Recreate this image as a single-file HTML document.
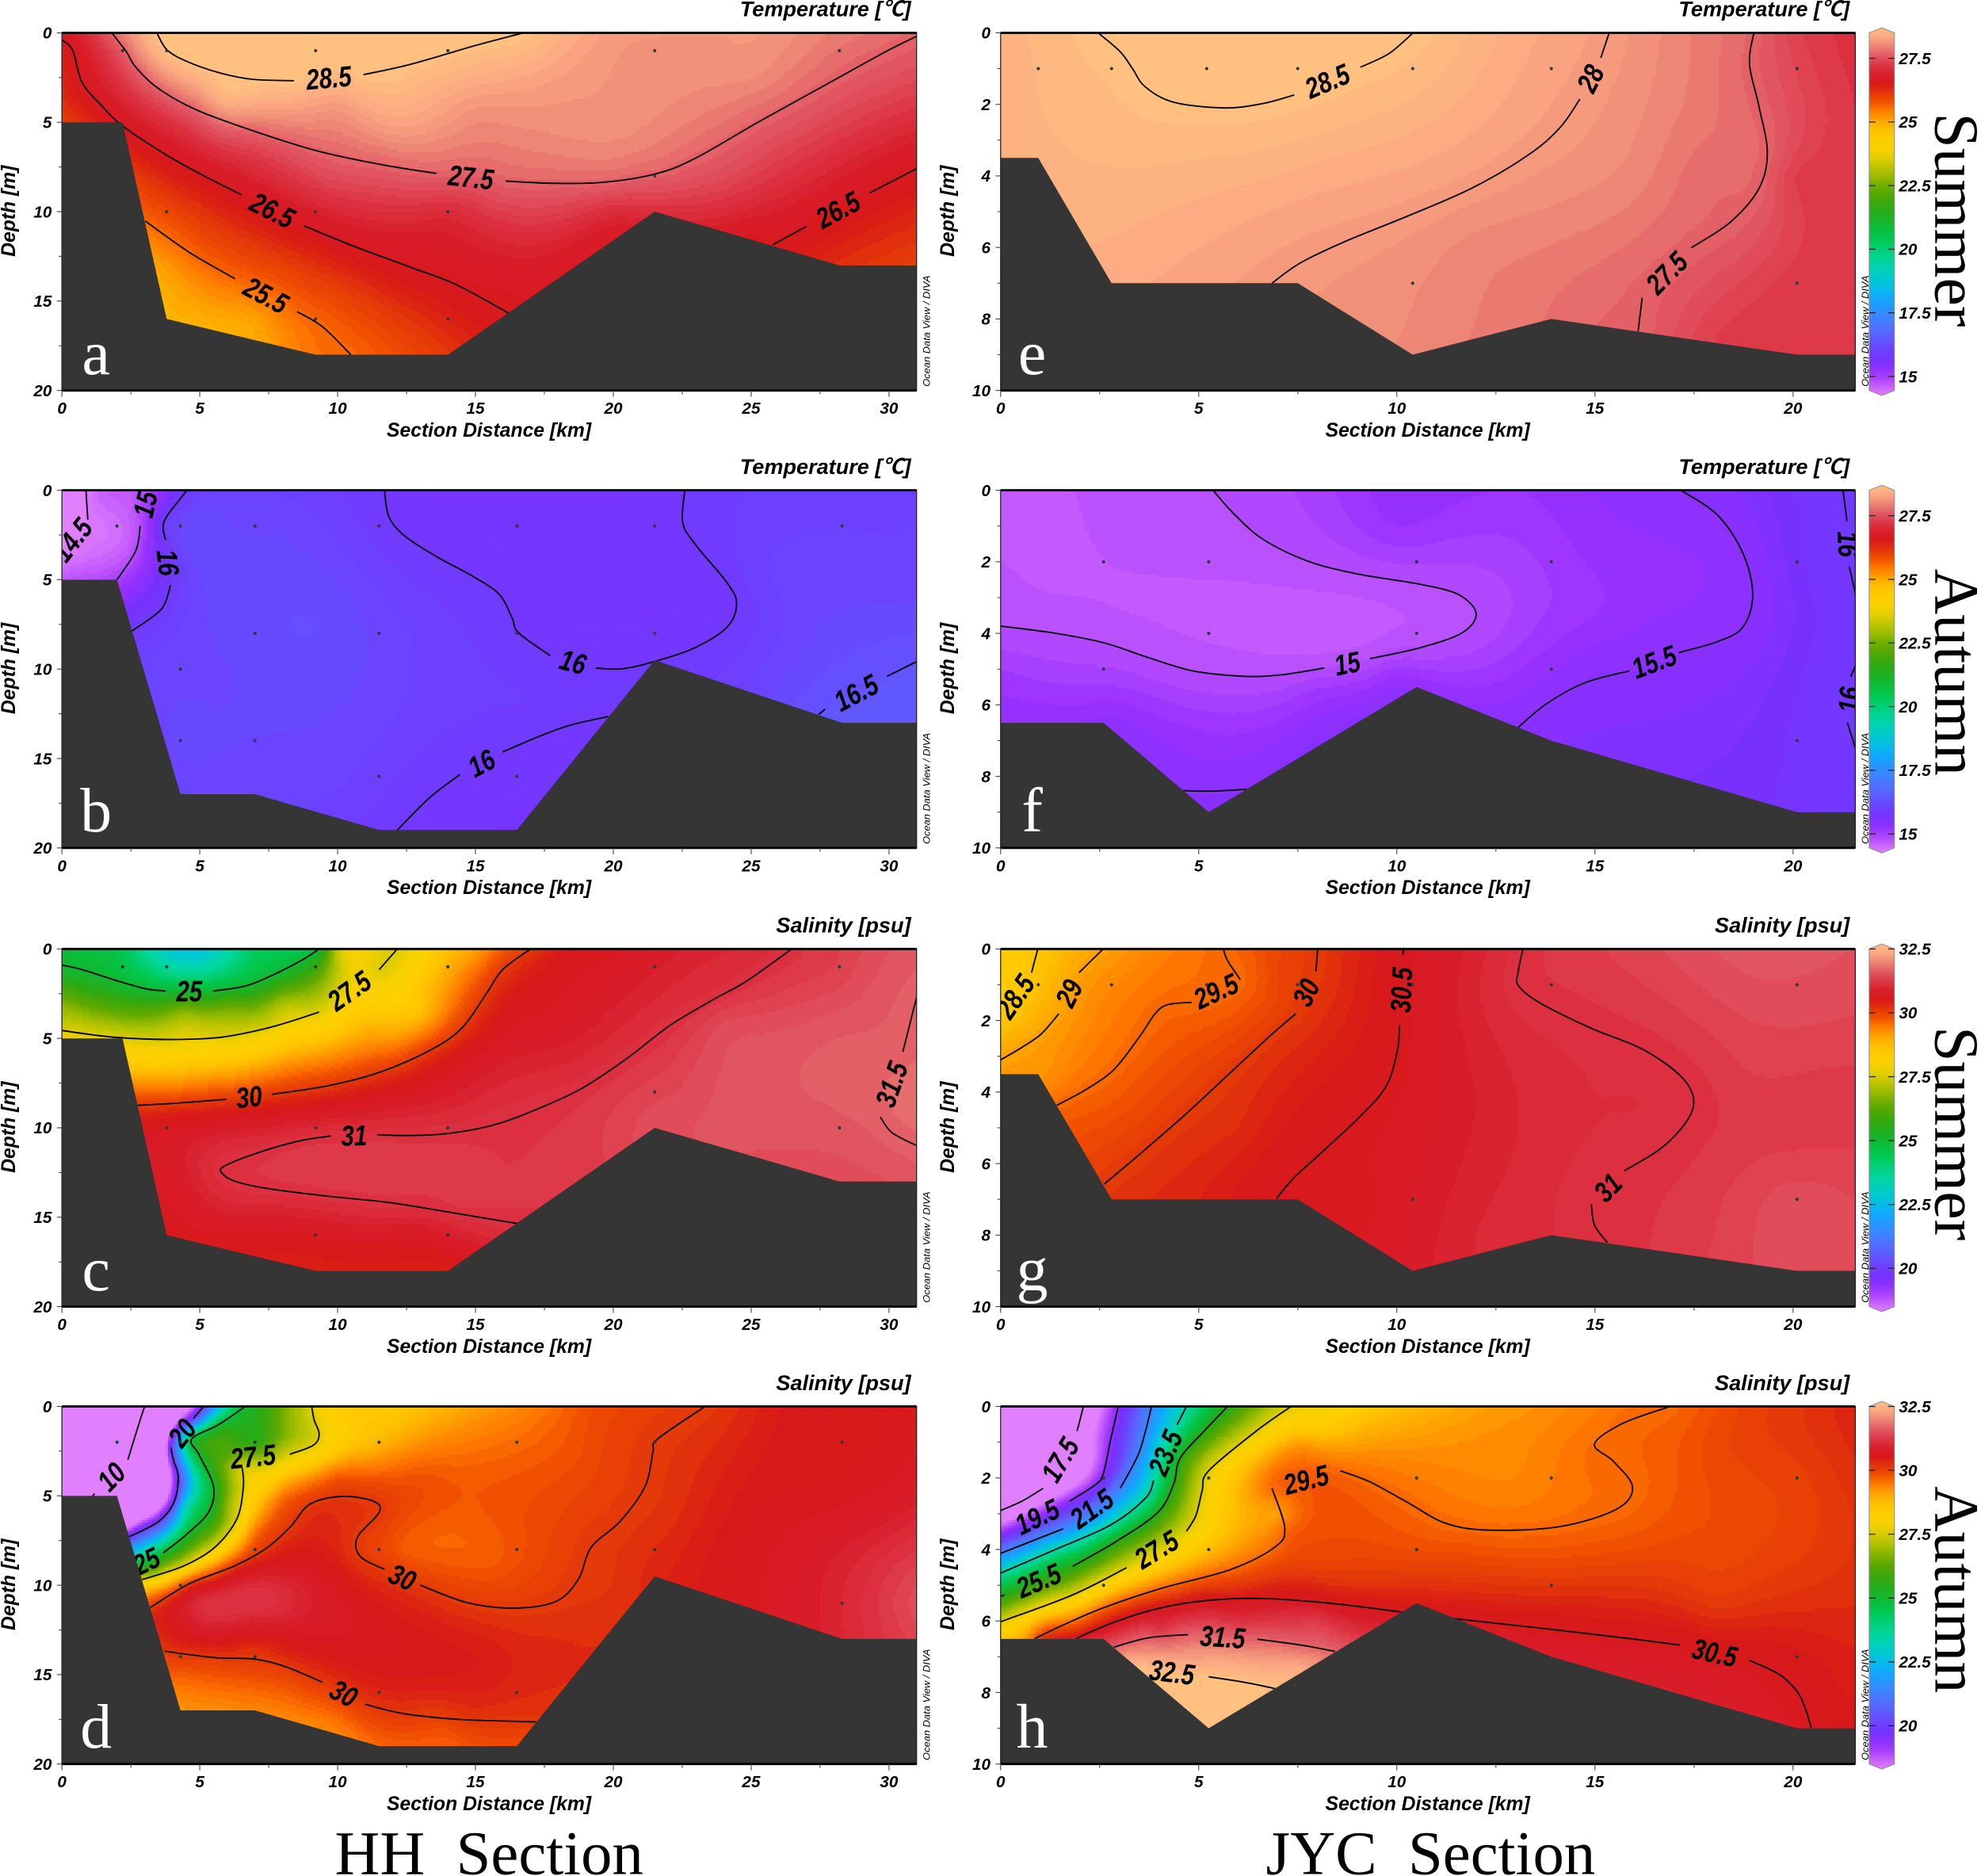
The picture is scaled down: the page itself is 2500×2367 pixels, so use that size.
<!DOCTYPE html>
<html lang="en">
<head>
<meta charset="utf-8">
<title>HH and JYC section temperature and salinity</title>
<style>
html,body{margin:0;padding:0;background:#fff;}
svg{display:block;}
text{font-family:"Liberation Sans","Noto Sans CJK SC",sans-serif;}
.bi{font-weight:bold;font-style:italic;fill:#000;}
.serif{font-family:"Liberation Serif","Noto Serif CJK SC",serif;white-space:pre;fill:#000;}
</style>
</head>
<body>
<svg id="chart" xmlns="http://www.w3.org/2000/svg" width="2500" height="2367" viewBox="0 0 1568 1484.6">
<rect x="0" y="0" width="1568" height="1484.6" fill="#fff"/>
<defs id="defs"></defs>
<g id="plots"></g>
<text class="serif" x="265" y="1483" font-size="49.4">HH  Section</text>
<text class="serif" x="1002" y="1483" font-size="49.4">JYC  Section</text>
<text class="serif" font-size="50" text-anchor="middle" transform="translate(1532,174) rotate(90)">Summer</text>
<text class="serif" font-size="50" text-anchor="middle" transform="translate(1532,532) rotate(90)">Autumn</text>
<text class="serif" font-size="50" text-anchor="middle" transform="translate(1532,897) rotate(90)">Summer</text>
<text class="serif" font-size="50" text-anchor="middle" transform="translate(1532,1258) rotate(90)">Autumn</text>
</svg>
<script>
// ---------- colour scale (fraction of the scale range, colour) ----------
const colormapStops = [
[0,'#e080ff'],[.03,'#c058ff'],[.062,'#9830ff'],[.093,'#7830ff'],[.124,'#6c40ff'],[.17,'#5868ff'],[.218,'#3888ff'],
[.264,'#10a8ff'],[.31,'#00c8d8'],[.365,'#00d8a0'],[.427,'#00c850'],[.466,'#10b830'],[.513,'#30a810'],[.56,'#60a800'],
[.606,'#a8c000'],[.64,'#d8cc00'],[.662,'#f5d000'],[.69,'#ffd000'],[.72,'#ffc400'],[.746,'#ffa800'],[.777,'#ff7800'],[.80,'#f05000'],
[.822,'#e43808'],[.847,'#d81818'],[.87,'#d81c28'],[.893,'#dc3040'],[.925,'#e25a65'],[.956,'#f09078'],[.975,'#fca882'],[1,'#ffc080']];

// ---------- axis ticks ----------
const hhKmTicks = [0,5,10,15,20,25,30];
const jycKmTicks = [0,5,10,15,20];
const hhDepthTicks = [0,5,10,15,20];
const jycDepthTicks = [0,2,4,6,8,10];
const temperatureBarTicks = [27.5,25,22.5,20,17.5,15];
const salinityBarTicks = [32.5,30,27.5,25,22.5,20];

// ---------- seabed profiles [km, depth] ----------
const hhSummerBottom = [[0,5],[2.2,5],[3.8,16],[9.2,18],[14,18],[21.5,10],[28.2,13],[31,13]];
const hhAutumnBottom = [[0,5],[2,5],[4.3,17],[7,17],[11.5,19],[16.5,19],[21.5,9.5],[28.3,13],[31,13]];
const jycSummerBottom = [[0,3.5],[.95,3.5],[2.8,7],[7.5,7],[10.4,9],[13.9,8],[20.1,9],[21.6,9]];
const jycAutumnBottom = [[0,6.5],[2.6,6.5],[5.25,9],[10.5,5.5],[13.9,7],[20.1,9],[21.6,9]];

// ---------- sampling stations [km, depth] ----------
const aStations = [[2.2,1],[3.8,1],[9.2,1],[14,1],[21.5,1],[28.2,1],[21.5,8],[3.8,10],[9.2,10],[14,10],[9.2,16],[14,16]];
const bStations = [[2,2],[4.3,2],[7,2],[11.5,2],[16.5,2],[21.5,2],[28.3,2],[7,8],[11.5,8],[16.5,8],[21.5,8],[4.3,10],[4.3,14],[7,14],[11.5,16],[16.5,16]];
const cStations = [[2.2,1],[3.8,1],[9.2,1],[14,1],[21.5,1],[28.2,1],[21.5,8],[3.8,10],[9.2,10],[14,10],[28.2,10],[9.2,16],[14,16]];
const dStations = [[2,2],[4.3,2],[7,2],[11.5,2],[16.5,2],[21.5,2],[28.3,2],[7,8],[11.5,8],[16.5,8],[21.5,8],[4.3,10],[28.3,11],[4.3,14],[7,14],[11.5,16],[16.5,16]];
const eStations = [[.95,1],[2.8,1],[5.2,1],[7.5,1],[10.4,1],[13.9,1],[20.1,1],[10.4,7],[20.1,7]];
const fStations = [[2.6,2],[5.25,2],[10.5,2],[13.9,2],[20.1,2],[5.25,4],[10.5,4],[2.6,5],[13.9,5],[20.1,7]];
const gStations = [[.95,1],[2.8,1],[5.2,1],[7.5,1],[10.4,1],[13.9,1],[20.1,1],[10.4,7],[20.1,7]];
const hStations = [[2.6,2],[5.25,2],[10.5,2],[13.9,2],[20.1,2],[5.25,4],[10.5,4],[2.6,5],[13.9,5],[20.1,7]];

// ---------- isolines: [level, [[km, depth, gapBeforePoint?], ...]] ----------
const aContours = [
[28.5,[[3.44,0],[3.83,.98],[4.63,1.66],[5.78,2.26],[6.93,2.6],[8.42,2.68],[10.94,2.34,1],[12.66,1.75],[14.95,.73],[16.74,0]]],
[27.5,[[1.81,0],[2.34,1.07],[2.68,1.92],[3.49,3.1],[4.86,4.3],[6.93,5.48],[9.22,6.59],[11.51,7.35],[13.58,7.86],[16.1,8.29,1],[17.94,8.42],[19.77,8.34],[21.6,7.86],[22.98,7.01],[25.28,4.97],[27.57,3.02],[29.86,1.07],[31,.19]]],
[26.5,[[0,.39],[.39,.98],[.73,2.77],[1.42,4.04],[2.22,5.23],[3.72,6.76],[5.09,7.95],[6.51,9.05],[8.76,10.78,1],[10.6,11.94],[12.66,13.12],[14.27,14.06],[16.2,15.67]]],
[26.5,[[25.78,11.85],[27,10.83],[29.29,8.96,1],[31,7.6]]],
[25.5,[[3.03,10.53],[4.63,12.28],[6.28,13.75],[8.53,15.59,1],[9.45,16.43],[10.48,18]]]
];
const bContours = [
[14.5,[[.87,0],[.94,1.64],[-.2,3.9,1]]],
[15,[[3.2,-.4],[2.84,1.97,1],[2.68,3.37],[2,5]]],
[16,[[4.54,0],[3.83,1.4],[3.67,2.05],[3.76,2.79],[3.94,5.3,1],[3.6,6.66],[2.52,7.89]]],
[16,[[11.7,0],[11.86,1.48],[12.43,2.55],[13.58,3.7],[14.95,4.85],[15.87,5.83],[16.33,7.15],[16.56,7.97],[17.71,9.25],[19.36,9.94,1],[20.34,9.98],[21.6,9.53],[22.98,8.79],[24.13,7.64],[24.47,6.33],[24.13,5.18],[22.98,3.04],[22.52,1.81],[22.59,0]]],
[16,[[19.82,12.65],[18.4,13.15],[17.25,13.8],[15.99,14.63],[14.45,15.89,1],[13.35,17.17],[12.16,19.01]]],
[16.5,[[27.45,12.54],[27.68,12.24],[29.93,10.4,1],[31,9.58]]]
];
const cContours = [
[25,[[0,.9],[.73,1.15],[1.88,1.72],[3.03,2.22],[3.76,2.35],[5.48,2.35,1],[6.7,2.05],[7.85,1.31],[8.76,.57],[9.33,0]]],
[27.5,[[0,4.56],[1.88,4.93],[3.94,5.06],[5.78,4.93],[7.62,4.35],[9.33,3.53],[11.51,1.15,1],[12.16,0]]],
[30,[[2.75,8.74],[4.17,8.62],[5.96,8.41],[7.61,8.13,1],[9.68,7.64],[11.51,6.9],[13.35,5.67],[14.5,4.43],[15.41,2.46],[15.99,1.15],[17,0]]],
[31,[[26.47,0],[24.82,1.81],[23.67,2.79],[22.06,4.27],[20.46,6.16],[18.85,7.8],[17.25,8.95],[15.64,9.85],[14.04,10.31],[12.66,10.43],[11.44,10.39],[9.75,10.46,1],[8.53,10.76],[6.93,11.49],[5.89,12.15],[5.78,12.48],[6.24,12.97],[7.39,13.38],[9.68,13.83],[11.97,14.2],[14.27,14.78],[16.51,15.35]]],
[31.5,[[31,2.71],[30.77,4.1],[30.5,5.75],[29.68,9.39,1],[30.1,10.26],[31,11]]]
];
const dContours = [
[10,[[3,0],[2.8,.94],[2.39,2.98],[1.19,4.88,1],[1.1,5.03]]],
[20,[[5.14,0],[4.77,.67],[3.95,2.3,1],[4.06,3.07],[4.22,3.96],[4.06,5.38],[3.49,6.45],[2.45,7.28]]],
[25,[[6.65,0],[5.67,1.03],[4.7,1.83],[4.98,2.72],[5.5,4.49],[5.32,5.91],[4.52,7.16],[3.67,8.19],[2.45,9.11,1]]],
[27.5,[[9.06,0],[9.15,.76],[9.33,1.56],[9.11,2.18],[8.26,2.68],[6.54,3.43,[6.93,2.8,-6]],[6.58,4.49],[6.35,6.27],[5.55,7.87],[4.4,8.93],[2.91,9.68]]],
[30,[[3.21,11.24],[4.63,9.91],[6.24,8.93],[7.39,7.96],[8.3,6.71],[8.99,5.47],[10.14,5.03],[11.28,5.29],[11.51,5.91],[10.71,7.34],[10.83,8.4],[11.7,9.11],[13,10,1],[14.72,10.98],[16.44,11.28],[17.94,10.89],[18.74,9.64],[19.2,7.87],[20.23,6.45],[21.15,4.49],[21.44,2.54],[21.6,1.83],[23.33,0]]],
[30,[[3.72,13.69],[5.55,14.05],[6.93,14.12],[8.07,14.53],[9.45,15.42],[11,16.66,1],[12.43,17.19],[14.5,17.51],[17.2,17.64]]]
];
const eContours = [
[28.5,[[2.46,0],[3.02,.53],[3.33,1],[3.65,1.51],[4.37,1.94],[5.65,2.1],[6.61,1.98],[7.41,1.74],[9.08,.96,1],[9.8,.58],[10.41,0]]],
[28,[[15.36,0],[15.15,.7],[14.62,1.85,1],[14.11,2.66],[13.31,3.42],[11.88,4.35],[10.28,5.12],[8.68,5.84],[7.57,6.43],[6.85,7]]],
[27.5,[[19.01,0],[18.9,.87],[19.14,2.06],[19.35,3.34],[19.14,4.35],[18.42,5.29],[17.43,6.01],[16.19,7.41,1],[16.09,8.35]]]
];
const fContours = [
[15,[[5.36,0],[5.89,.66],[6.61,1.36],[7.73,1.97],[9,2.34],[10.6,2.63],[11.56,2.92],[12,3.45],[11.64,3.99],[10.6,4.4],[9.32,4.71],[8.17,4.97,1],[7.09,5.16],[6.13,5.2],[4.85,5.05],[3.73,4.68],[2.62,4.27],[1.34,3.99],[0,3.8]]],
[15.5,[[17.17,0],[18.1,.7],[18.74,1.77],[18.98,2.92],[18.74,3.82],[18.1,4.23],[17.11,4.54],[15.87,5.05,1],[14.75,5.38],[13.79,5.96],[13.06,6.63]]],
[15.5,[[4.61,8.4],[5.41,8.41],[6.21,8.36]]],
[16,[[21.26,0],[21.36,.86],[21.42,2.14,1],[21.58,2.92]]],
[16,[[21.58,4.9],[21.45,5.22],[21.37,6.49,1],[21.58,7.23]]]
];
const gContours = [
[28.5,[[.94,0],[.78,.66],[-.05,2,1]]],
[29,[[2.59,0],[1.98,.66],[1.47,1.81,1],[1.02,2.38],[.54,2.75],[0,3.1]]],
[29.5,[[5.62,0],[5.73,.33],[6.05,.86],[4.82,1.49,1],[4.21,1.56],[3.9,1.81],[3.5,2.46],[2.86,3.37],[2.14,3.94],[1.42,4.37]]],
[30,[[8,0],[7.96,.62],[7.45,1.81,1],[6.77,2.46],[5.81,3.45],[4.69,4.6],[3.58,5.67],[2.62,6.57]]],
[30.5,[[10.17,0],[10.15,.16],[10.07,2.13,1],[10.01,2.87],[9.72,3.86],[9,4.76],[8.04,5.75],[7.4,6.4],[6.96,6.98]]],
[31,[[13.18,0],[13.06,.66],[13.07,1.03],[13.63,1.52],[14.91,2.22],[16.18,2.79],[17.14,3.53],[17.49,4.19],[17.3,4.84],[16.66,5.58],[15.74,6.2],[14.91,7.14,1],[14.99,7.72],[15.31,8.21]]]
];
const hContours = [
[17.5,[[2.09,0],[1.93,.69],[1.07,2.29,1],[.54,2.65],[0,2.91]]],
[19.5,[[2.97,0],[2.78,.91],[2.59,1.89],[2.38,2.2],[1.74,2.65],[.1,3.52,1]]],
[21.5,[[3.81,0],[3.5,1.27],[3.02,2.29],[1.58,3.42,1],[0,4.11]]],
[23.5,[[4.69,0],[4.45,.52],[3.86,2.07,1],[3.66,2.56],[2.78,3.31],[1.34,4.02],[0,4.66]]],
[25.5,[[5.73,0],[5.17,.65],[4.53,1.45],[4.37,2.16],[3.97,2.96],[2.94,3.76],[1.82,4.47],[.1,5.27,1],[0,5.31]]],
[27.5,[[7.33,0],[6.45,.69],[5.25,1.8],[5.09,2.34],[4.93,3.05],[4.69,3.49],[3.18,4.51,1],[1.82,5.27],[0,6.02]]],
[29.5,[[16.9,0],[15.71,.47],[14.99,1.05],[15.47,1.54],[15.95,2.25],[15.55,2.87],[14.11,3.36],[12.35,3.46],[11.24,3.27],[10.28,2.69],[9.32,2.11],[8.57,1.8],[6.85,2.29,1],[7.17,3.4],[6.93,3.93],[5.81,4.56],[4.05,5.09],[2.62,5.62],[1.66,6.07],[.86,6.49]]],
[30.5,[[1.9,6.49],[2.78,6.07],[3.9,5.67],[5.17,5.43],[6.61,5.37],[8.36,5.51],[10.12,5.75],[11.4,5.93],[13.95,6.24],[15.71,6.47],[17.14,6.67],[18.9,7.1,1],[19.7,7.53],[20.18,8.11],[20.46,8.98]]],
[31.5,[[2.86,6.73],[3.73,6.47],[4.73,6.38],[6.48,6.51,1],[7.57,6.67],[8.44,6.85]]],
[32.5,[[3.4,7.3],[5.25,7.56,1],[6.13,7.71],[6.93,7.89]]]
];

// ---------- extra field readings between isolines [km, depth, value] ----------
const aReadings = [[0,0,26.6],[0,4.5,26],[1,0,27],[3,0,28.3],[4,15.8,24.8],[9,18,25.4],[14,18,26],[16,15,26.5],[20,10,26.9],[25,11.5,26.5],[31,13,25.9],[28.2,13,26.1],[14,10,26.9],[10,4,28],[15,4.5,27.9],[25,2,27.9],[5,14,25.2],[3.5,13,25],[7,16,25],[13,16,26.1],[20,5,27.9],[27,8,26.9],[31,3,27.2],[24,9,27.1],[10,8,27.3],[6,3.5,28.4],[12,5,28.1],[10,.5,28.6],[6,.5,28.7],[20,0,28],[24,0,27.95],[28,.3,27.7],[18,3,28]];
const bReadings = [[0,0,14.2],[0,3,14.4],[1.5,0,14.8],[0,5,14.9],[2,5,15.3],[6,2,16.3],[9.5,8,16.4],[11,10,16.3],[8,14,16.3],[11,17,16.15],[13,19,16],[17,12,16.1],[14,2,15.9],[18,4,15.85],[20,6,15.85],[27,2,16.2],[25,5,16.15],[31,5,16.25],[31,13,16.6],[28,13,16.55],[31,0,16.2],[7,0,16.2],[16,18,15.9],[6,10,16.3],[5,16,16.3],[17,0,15.9],[26,0,16.15]];
const cReadings = [[4.5,0,22.6],[2,0,24.6],[0,0,25],[7,0,24.3],[4.5,1,23.4],[4.5,3.5,26.7],[4,4.5,27.3],[0,3,26.6],[6,3,26.2],[8,3,27],[10,0,27.3],[3,6.5,28.4],[6,7,29],[8,5,28.2],[11,3,28.2],[13,3.5,28.6],[11,4,28.6],[13,2,28.5],[14,0,28.6],[15,0,29],[11,0,27.8],[12,5,29.1],[4,8,29.5],[18,0,30.3],[20,0,30.5],[18,4,30.6],[23,0,30.8],[5,10,30.6],[10,9,30.6],[14,8,30.7],[10,12,31.1],[4,13,30.6],[8,16,30.5],[12,17.5,30.35],[4,15.5,30.5],[14,17.8,30.35],[10,15.5,30.7],[13,16,30.6],[21.5,9.5,31.3],[25,7,31.4],[28,5,31.45],[27,0,31.05],[29,0,31.25],[31,0,31.4],[28,1,31.15],[30.5,8,31.6],[28,12.5,31.3],[31,12.8,31.4],[19,12,31.1],[16,12,31.05],[24,4,31.25],[22,7.5,31.2]];
const dReadings = [[0,0,9.5],[1,3,9],[0,4.9,9],[3.9,4,18.3],[2.2,6,16],[3,6,18],[4.5,0,18],[4.6,3.8,22.5],[4.4,5.5,23],[6,2.5,26],[7,2,25.5],[8,0,26.5],[7,0,25.3],[5.8,3.5,26.3],[6,5.5,26.8],[3.2,9.3,26.5],[7.5,4.5,28.5],[10,0,28.3],[12,0,28.4],[15,0,29],[17,0,29.3],[19,0,29.7],[21,0,29.9],[11,2,28.6],[9,3.5,28.7],[8,5,29.4],[7,7,29.4],[10,4,29.7],[13,4,29.7],[14,8,29.55],[12.5,8,29.6],[15.5,8.5,29.6],[16,6,29.7],[18,5,29.8],[20,3,29.9],[16,2,29.45],[18.5,2.5,29.7],[25,0,30.2],[27,0,30.45],[31,0,30.5],[25,5,30.4],[28,3,30.4],[31,5,30.7],[22,6,30.1],[24,8,30.4],[21.5,9.3,30.2],[28,12.9,30.8],[31,11,31.3],[30,12,31.1],[31,13,31.2],[28.3,8,30.75],[26,10,30.6],[7.5,11,31],[4,12,30.4],[10,11,30.6],[7,13.5,30.1],[12,12,30.4],[15,14,30.35],[17,14,30.2],[18,12,30.1],[20,10,30.05],[13,15.5,30.3],[16,16.5,30.15],[5,16.8,29.2],[4.5,15,29.6],[7,16.8,29.3],[10,17.5,29.45],[12,18.8,29.6],[16.5,18.9,29.8],[14,18,29.75],[8,15.5,29.7],[17,18.5,29.85]];
const eReadings = [[0,0,28.3],[0,3,28.3],[5,.5,28.6],[5,3.5,28.35],[2,6,28.25],[6,6,28.1],[10,8.5,27.85],[13,7.8,27.7],[15,8,27.55],[18,8.5,27.15],[20,8.8,27.05],[21.5,8.8,27.1],[21.5,0,27],[20,0,27.2],[17,0,27.8],[13,0,28.2],[21,4,27.1],[20,4,27.15],[16,4,27.8],[12,2,28.2],[8,4,28.2],[12,6,27.8],[20,7,27.1],[18,4,27.55]];
const fReadings = [[.3,.5,14.85],[.5,1.8,14.85],[3,1,14.95],[7,3.5,14.85],[9,3.5,14.85],[5,2.5,14.9],[3,3.3,14.9],[0,2.5,14.95],[0,5,15.2],[2,6,15.3],[5,6.4,15.25],[8,5.5,15.2],[7,7,15.4],[10,5.3,15.35],[5.2,9,15.55],[10,1,15.3],[15,1.5,15.35],[15,3.5,15.3],[20,2,15.75],[20,6,15.8],[20,9,15.85],[21.5,9,16],[13,0,15.3],[8,0,15.15],[15,5,15.5],[0,6.5,15.4],[2.6,6.5,15.45]];
const gReadings = [[0,0,28.4],[0,1.5,28.35],[0,3.4,29.05],[.94,3.5,29.1],[2.6,1,29.2],[4,.5,29.35],[5,.5,29.45],[7,.5,29.85],[9,.5,30.25],[12,0,30.8],[14.5,0,31.1],[16,0,31.2],[19,0,31.4],[21.5,0,31.35],[21,2,31.25],[19,3.5,31.15],[15,4,30.95],[12,4,30.75],[21.5,4.5,31.1],[20,5,31.1],[21.5,9,31.3],[20,7,31.3],[19,9,31.25],[18,8,31.15],[14,8,30.95],[12,8,30.85],[10.4,9,30.7],[8,7,30.45],[5,7,30.25],[13,5.5,30.85],[16,4.5,30.95],[6,5,30.15],[3,5,29.8],[8,3,30.25]];
const hReadings = [[0,0,14],[1,1,14],[0,2,15.5],[1,0,15],[9,0,28.3],[10,0,28.6],[12,0,29],[14,0,29.2],[15,1,29.4],[13,2,29.25],[19,0,29.9],[21.5,0,30.2],[18,1,29.8],[20,2,29.9],[21.5,2,30.1],[17,4,29.8],[12,4,29.7],[8,4.5,29.9],[7,3,29],[7.5,1,29],[8,.5,28.2],[18,5.5,30],[10,5,30.1],[21.5,5,30.1],[21.5,8.9,30.4],[20.5,6,30.2],[19,8.5,30.6],[14,6.8,30.65],[16,7.5,30.7],[6,6,31],[4,6.3,31.1],[5,7,32],[5,8.9,32.9],[5.2,8.3,32.7],[3.5,7,32],[7.5,7.2,32.1],[8,6,31.1],[1,6.4,29.9],[0,6.4,28.3],[.5,6.5,28.9],[2.9,6.4,31]];

// ---------- script ----------
const NS = 'http://www.w3.org/2000/svg';
const root = document.getElementById('plots');
const defs = document.getElementById('defs');
function mk(tag, attrs, parent, txt){
  const el = document.createElementNS(NS, tag);
  for(const k in attrs) el.setAttribute(k, attrs[k]);
  if(txt !== undefined) el.textContent = txt;
  (parent || root).appendChild(el);
  return el;
}
function hex(c){return [parseInt(c.substr(1,2),16),parseInt(c.substr(3,2),16),parseInt(c.substr(5,2),16)];}
function colorAt(t){
  t = Math.max(0,Math.min(1,t));
  for(let i=1;i<colormapStops.length;i++){
    if(t<=colormapStops[i][0]){
      const a=colormapStops[i-1],b=colormapStops[i],f=(t-a[0])/(b[0]-a[0]),A=hex(a[1]),B=hex(b[1]);
      return 'rgb('+Math.round(A[0]+(B[0]-A[0])*f)+','+Math.round(A[1]+(B[1]-A[1])*f)+','+Math.round(A[2]+(B[2]-A[2])*f)+')';
    }
  }
  return colormapStops[colormapStops.length-1][1];
}
const columns = [
  {x0:49,x1:725.5,kmMax:31,depthMax:20,kmTicks:hhKmTicks,depthTicks:hhDepthTicks,depthMinor:2.5},
  {x0:792,x1:1468.5,kmMax:21.57,depthMax:10,kmTicks:jycKmTicks,depthTicks:jycDepthTicks,depthMinor:1}
];
const rowTops = [26,388,751,1113];
const plotHeight = 283;
const tempScale = {min:14.45,max:28.5,title:'Temperature [\u2103]',ticks:temperatureBarTicks};
const salScale = {min:18.5,max:32.5,title:'Salinity [psu]',ticks:salinityBarTicks};
const panels = [
  {id:'a',col:0,row:0,scale:tempScale,stations:aStations,bottom:hhSummerBottom,contours:aContours,readings:aReadings},
  {id:'b',col:0,row:1,scale:tempScale,stations:bStations,bottom:hhAutumnBottom,contours:bContours,readings:bReadings},
  {id:'c',col:0,row:2,scale:salScale,stations:cStations,bottom:hhSummerBottom,contours:cContours,readings:cReadings},
  {id:'d',col:0,row:3,scale:salScale,stations:dStations,bottom:hhAutumnBottom,contours:dContours,readings:dReadings},
  {id:'e',col:1,row:0,scale:tempScale,stations:eStations,bottom:jycSummerBottom,contours:eContours,readings:eReadings},
  {id:'f',col:1,row:1,scale:tempScale,stations:fStations,bottom:jycAutumnBottom,contours:fContours,readings:fReadings},
  {id:'g',col:1,row:2,scale:salScale,stations:gStations,bottom:jycSummerBottom,contours:gContours,readings:gReadings},
  {id:'h',col:1,row:3,scale:salScale,stations:hStations,bottom:jycAutumnBottom,contours:hContours,readings:hReadings}
];
// smooth surface through all readings (thin-plate spline)
function fitSurface(samples, xS, yS){
  const n = samples.length, m = n+3;
  const px = samples.map(s=>xS(s[0])/100), py = samples.map(s=>yS(s[1])/100);
  const A = [];
  for(let i=0;i<m;i++) A.push(new Float64Array(m+1));
  for(let i=0;i<n;i++){
    for(let j=0;j<n;j++){
      const dx=px[i]-px[j],dy=py[i]-py[j],r=dx*dx+dy*dy;
      A[i][j] = r>0 ? r*Math.log(r)*.5 : 0;
    }
    A[i][i] += .004;
    A[i][n]=1;A[i][n+1]=px[i];A[i][n+2]=py[i];
    A[n][i]=1;A[n+1][i]=px[i];A[n+2][i]=py[i];
    A[i][m]=samples[i][2];
  }
  for(let c=0;c<m;c++){
    let p=c;
    for(let r=c+1;r<m;r++) if(Math.abs(A[r][c])>Math.abs(A[p][c])) p=r;
    const tmp=A[c];A[c]=A[p];A[p]=tmp;
    const d=A[c][c]||1e-12;
    for(let r=c+1;r<m;r++){
      const f=A[r][c]/d;
      if(f===0) continue;
      for(let k=c;k<=m;k++) A[r][k]-=f*A[c][k];
    }
  }
  const w=new Float64Array(m);
  for(let r=m-1;r>=0;r--){
    let s=A[r][m];
    for(let k=r+1;k<m;k++) s-=A[r][k]*w[k];
    w[r]=s/(A[r][r]||1e-12);
  }
  return function(x,y){
    const u=x/100,v=y/100;
    let s=w[n]+w[n+1]*u+w[n+2]*v;
    for(let i=0;i<n;i++){
      const dx=u-px[i],dy=v-py[i],r=dx*dx+dy*dy;
      if(r>0) s+=w[i]*r*Math.log(r)*.5;
    }
    return s;
  };
}
function seabedAt(bottom, km){
  for(let i=1;i<bottom.length;i++){
    if(km<=bottom[i][0]){
      const a=bottom[i-1],b=bottom[i];
      return a[1]+(b[1]-a[1])*(km-a[0])/(b[0]-a[0]);
    }
  }
  return bottom[bottom.length-1][1];
}
function smoothPath(P){
  let d='M'+P[0][0].toFixed(1)+' '+P[0][1].toFixed(1);
  for(let i=0;i<P.length-1;i++){
    const p1=P[i],p2=P[i+1];
    if(p2[2]){d+='M'+p2[0].toFixed(1)+' '+p2[1].toFixed(1);continue;}
    const p0=(i>0&&!p1[2])?P[i-1]:p1, p3=(i+2<P.length&&!P[i+2][2])?P[i+2]:p2;
    const c1x=p1[0]+(p2[0]-p0[0])/6,c1y=p1[1]+(p2[1]-p0[1])/6,c2x=p2[0]-(p3[0]-p1[0])/6,c2y=p2[1]-(p3[1]-p1[1])/6;
    d+='C'+c1x.toFixed(1)+' '+c1y.toFixed(1)+' '+c2x.toFixed(1)+' '+c2y.toFixed(1)+' '+p2[0].toFixed(1)+' '+p2[1].toFixed(1);
  }
  return d;
}
const LEVELS = 140, CELL = 2;

panels.forEach(function(p){
  const col=columns[p.col], top=rowTops[p.row], W=col.x1-col.x0;
  const xLocal=function(km){return km/col.kmMax*W;};
  const yLocal=function(d){return d/col.depthMax*plotHeight;};
  const xAxis=function(km){return col.x0+xLocal(km);};
  const yAxis=function(d){return top+yLocal(d);};

  const g=mk('g',{});
  
  

  const clip=mk('clipPath',{id:'clip-'+p.id},defs);
  mk('rect',{x:col.x0,y:top,width:W,height:plotHeight},clip);
  const plot=mk('g',{'clip-path':'url(#clip-'+p.id+')'},g);
  
  

  // field bands
  const samples=p.readings.slice();
  p.contours.forEach(function(c){c[1].forEach(function(pt){samples.push([pt[0],pt[1],c[0]]);});});
  const surf=fitSurface(samples,xLocal,yLocal);
  const bands={};
  const nx=Math.ceil(W/CELL), ny=Math.ceil(plotHeight/CELL);
  for(let j=0;j<ny;j++){
    const yy=(j+.5)*CELL;
    let runStart=-1,runIdx=-1;
    const flush=function(endI){
      if(runIdx<0) return;
      const x=(col.x0+runStart*CELL).toFixed(1), y=(top+j*CELL).toFixed(1), w=((endI-runStart)*CELL+.5).toFixed(1);
      bands[runIdx]=(bands[runIdx]||'')+'M'+x+' '+y+'h'+w+'v2.5h-'+w+'z';
    };
    for(let i=0;i<nx;i++){
      const xx=(i+.5)*CELL;
      const km=xx/W*col.kmMax, depth=yy/plotHeight*col.depthMax;
      let idx=-1;
      if(depth<seabedAt(p.bottom,km)+col.depthMax*.03){
        const t=(surf(xx,yy)-p.scale.min)/(p.scale.max-p.scale.min);
        idx=Math.max(0,Math.min(LEVELS,Math.round(t*LEVELS)));
      }
      if(idx!==runIdx){flush(i);runStart=i;runIdx=idx;}
    }
    flush(nx);
  }
  Object.keys(bands).forEach(function(k){
    const b=mk('path',{d:bands[k],fill:colorAt(k/LEVELS),'shape-rendering':'crispEdges'},plot);
    
    
  });

  // isolines
  p.contours.forEach(function(c){
    const P=c[1].map(function(q){return [xAxis(q[0]),yAxis(q[1]),q[2]||0];});
    const line=mk('path',{d:smoothPath(P),fill:'none',stroke:'#000','stroke-width':1.15},plot);
    
    
    for(let i=1;i<P.length;i++){
      if(!P[i][2]) continue;
      const a=P[i-1],b=P[i];
      let ang=Math.atan2(b[1]-a[1],b[0]-a[0])*180/Math.PI;
      if(ang>90) ang-=180;
      if(ang<-90) ang+=180;
      let mx=(a[0]+b[0])/2,my=(a[1]+b[1])/2;
      const spot=P[i][2];
      if(Array.isArray(spot)){mx=xAxis(spot[0]);my=yAxis(spot[1]);ang=spot[2];}
      const lab=mk('text',{class:'bi','font-size':20.5,'text-anchor':'middle',dy:'.35em',transform:'translate('+mx.toFixed(1)+','+my.toFixed(1)+') rotate('+ang.toFixed(1)+') scale(.9,1.12)'},plot,String(c[0]));
      
      
    }
  });

  // stations
  p.stations.forEach(function(s){
    const dot=mk('circle',{cx:xAxis(s[0]).toFixed(1),cy:yAxis(s[1]).toFixed(1),r:1.3,fill:'#2b3a3f'},plot);
    
    
  });

  // seabed
  const pts=p.bottom.map(function(q){return xAxis(q[0]).toFixed(1)+','+yAxis(q[1]).toFixed(1);});
  pts.push(col.x1+','+(top+plotHeight));
  pts.push(col.x0+','+(top+plotHeight));
  const bed=mk('polygon',{points:pts.join(' '),fill:'#353535'},plot);
  
  

  // frame
  const fl=mk('rect',{x:col.x0,y:top,width:W,height:plotHeight,fill:'none',stroke:'#222','stroke-width':.8},g);
  
  
  [top,top+plotHeight].forEach(function(yy){
    const e=mk('line',{x1:col.x0,x2:col.x1,y1:yy,y2:yy,stroke:'#000','stroke-width':1.8},g);
    
    
  });

  // x axis
  for(let km=0;km<=col.kmMax;km+=2.5){
    const major=km%5===0;
    const tk=mk('line',{x1:xAxis(km),x2:xAxis(km),y1:top+plotHeight,y2:top+plotHeight+(major?5:3),stroke:'#444','stroke-width':.7},g);
    
    
  }
  col.kmTicks.forEach(function(km){
    const t=mk('text',{class:'bi','font-size':13,'text-anchor':'middle',x:xAxis(km),y:top+plotHeight+18.5},g,String(km));
    
    
  });
  const xt=mk('text',{class:'bi','font-size':15.5,'text-anchor':'middle',x:(col.x0+338),y:top+plotHeight+36.5},g,'Section Distance [km]');
  
  

  // y axis
  for(let d=0;d<=col.depthMax+.001;d+=col.depthMinor){
    const tk=mk('line',{x1:col.x0-(col.depthMinor===1?(d%2===0?4:2.5):(d%5===0?4:2.5)),x2:col.x0,y1:yAxis(d),y2:yAxis(d),stroke:'#444','stroke-width':.7},g);
    
    
  }
  col.depthTicks.forEach(function(d){
    const t=mk('text',{class:'bi','font-size':13,'text-anchor':'end',dy:'.35em',x:col.x0-8,y:yAxis(d)},g,String(d));
    
    
  });
  const yt=mk('text',{class:'bi','font-size':15.5,'text-anchor':'middle',transform:'translate('+(col.x0-37)+','+(top+141)+') rotate(-90)'},g,'Depth [m]');
  
  

  // panel title, credit, letter
  const tt=mk('text',{class:'bi','font-size':17,'text-anchor':'end',x:col.x1-4.5,y:top-13},g,p.scale.title);
  
  
  const cr=mk('text',{'font-size':7.6,'font-style':'italic',fill:'#000','text-anchor':'start',textLength:88,lengthAdjust:'spacingAndGlyphs',transform:'translate('+(col.x1+10.5)+','+(top+280)+') rotate(-90)'},g,'Ocean Data View / DIVA');
  
  
  const let_=mk('text',{'font-size':50,'text-anchor':'middle',fill:'#fff',style:'font-family:"Liberation Serif",serif',x:col.x0+(p.col===0?27:25),y:top+plotHeight-13},g,p.id);
  
  
});

// colour bars (one per row)
const barX0=1479.5, barX1=1499.5;
rowTops.forEach(function(top,r){
  const sc=r<2?tempScale:salScale;
  const gid='bar-grad-'+r;
  const grad=mk('linearGradient',{id:gid,x1:0,y1:0,x2:0,y2:1},defs);
  for(let i=0;i<=40;i++){
    mk('stop',{offset:i/40,'stop-color':colorAt(1-i/40)},grad);
  }
  const g=mk('g',{});
  
  
  const bot=top+plotHeight, xc=(barX0+barX1)/2;
  const pts=[[barX0,top],[xc,top-4],[barX1,top],[barX1,bot],[xc,bot+4],[barX0,bot]].map(function(q){return q.join(',');}).join(' ');
  const bar=mk('polygon',{points:pts,fill:'url(#'+gid+')',stroke:'#888','stroke-width':.6},g);
  
  
  const yBar=function(v){return bot-(v-sc.min)/(sc.max-sc.min)*plotHeight;};
  sc.ticks.forEach(function(v){
    [[barX0,barX0+5],[barX1-5,barX1]].forEach(function(x){
      const tk=mk('line',{x1:x[0],x2:x[1],y1:yBar(v),y2:yBar(v),stroke:'#222','stroke-width':.8},g);
      
      
    });
    const t=mk('text',{class:'bi','font-size':13,dy:'.35em',x:1503,y:yBar(v)},g,String(v));
    
    
  });
});
</script>
</body>
</html>
